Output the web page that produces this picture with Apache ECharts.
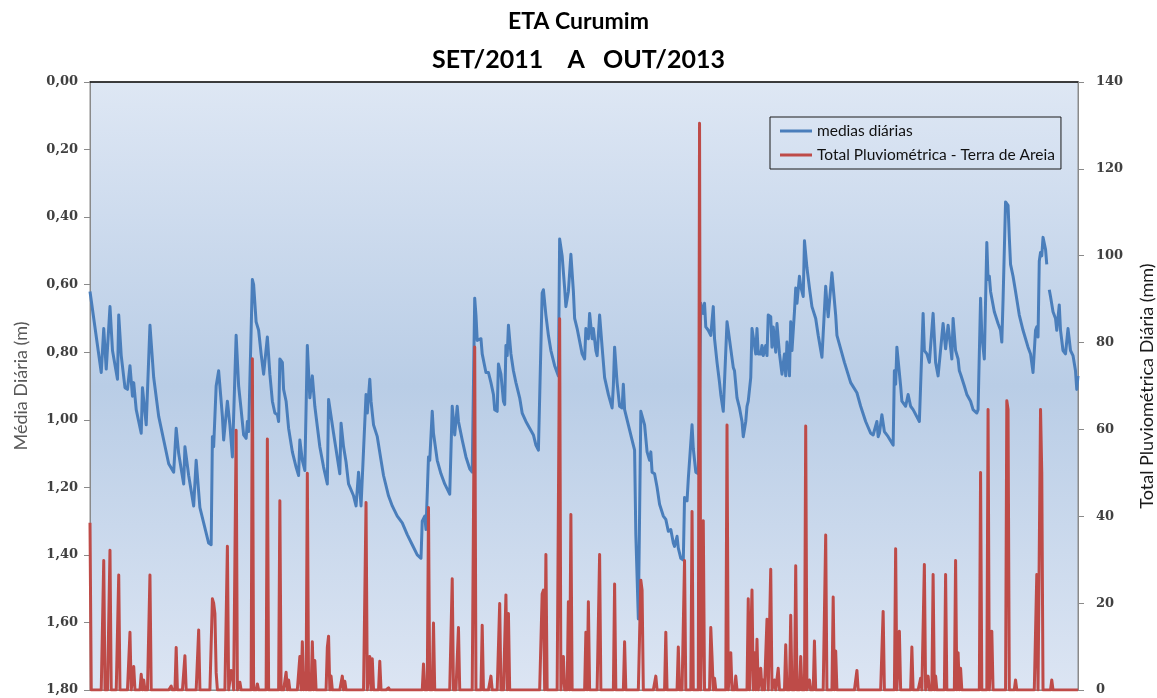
<!DOCTYPE html>
<html>
<head>
<meta charset="utf-8">
<title>ETA Curumim</title>
<script src="https://cdn.jsdelivr.net/npm/echarts@6/dist/echarts.min.js"></script>
<style>
  html, body { margin: 0; padding: 0; background: #ffffff; }
  #chart { width: 1157px; height: 698px; }
</style>
</head>
<body>
<div id="chart"></div>
<script>
// Period: 01/09/2011 .. 31/10/2013, days counted from 0
const totalDays = 791;

// Daily mean water level (m), given at the recorded days
const levelDay = [
  0, 9, 11, 13, 16, 18, 22, 23, 25, 28, 30, 32, 34, 35, 37, 41, 42, 45, 48, 51,
  55, 59, 63, 67, 69, 71, 75, 76, 79, 83, 85, 88, 91, 95, 97, 98, 99, 101, 103, 106,
  107, 110, 112, 114, 117, 119, 121, 123, 125, 126, 127, 130, 131, 133, 135, 137, 139, 142, 144, 146,
  148, 150, 151, 152, 154, 155, 157, 159, 162, 165, 167, 168, 170, 172, 174, 176, 178, 180, 182, 184,
  187, 190, 191, 192, 195, 200, 201, 203, 205, 207, 211, 213, 215, 217, 221, 222, 224, 225, 227, 230,
  233, 235, 239, 242, 246, 250, 254, 258, 262, 265, 266, 268, 269, 271, 272, 274, 275, 278, 281, 284,
  288, 290, 292, 294, 295, 298, 301, 304, 306, 308, 309, 310, 313, 314, 317, 319, 321, 323, 324, 326,
  327, 329, 331, 332, 333, 334, 335, 337, 339, 341, 344, 346, 349, 352, 355, 357, 359, 362, 363, 365,
  367, 369, 372, 375, 376, 378, 380, 381, 383, 385, 387, 388, 390, 394, 396, 397, 399, 400, 402, 403,
  405, 406, 408, 410, 412, 415, 418, 419, 420, 422, 424, 426, 427, 428, 431, 434, 436, 437, 438, 439,
  441, 442, 444, 446, 448, 449, 450, 452, 454, 456, 459, 461, 463, 465, 467, 468, 470, 471, 473, 475,
  476, 478, 479, 482, 483, 485, 487, 489, 491, 492, 493, 495, 497, 499, 500, 502, 504, 505, 507, 510,
  511, 513, 515, 516, 518, 520, 522, 523, 525, 526, 527, 529, 530, 531, 533, 534, 535, 537, 538, 539,
  541, 542, 543, 545, 546, 547, 549, 550, 552, 554, 556, 557, 558, 560, 561, 562, 564, 565, 566, 568,
  569, 571, 572, 574, 576, 578, 581, 583, 586, 589, 590, 591, 594, 597, 598, 604, 609, 614, 617, 621,
  625, 627, 630, 631, 632, 634, 636, 639, 643, 644, 645, 646, 649, 650, 653, 655, 657, 659, 664, 667,
  668, 670, 672, 675, 677, 679, 683, 685, 687, 689, 690, 691, 693, 695, 696, 697, 700, 702, 705, 707,
  710, 711, 713, 714, 716, 718, 719, 720, 721, 724, 727, 729, 730, 731, 733, 735, 736, 737, 739, 741,
  744, 747, 751, 753, 755, 756, 757, 758, 759, 760, 761, 762, 763, 765, 766, 767, 768, 769, 771, 773,
  774, 776, 777, 779, 781, 783, 785, 787, 789, 790, 791
];
const levelValue = [
  0.62, 0.86, 0.73, 0.85, 0.665, 0.795, 0.88, 0.69, 0.81, 0.905, 0.91, 0.84, 0.93, 0.89, 0.97, 1.04, 0.905, 1.015, 0.72, 0.875,
  0.99, 1.06, 1.13, 1.155, 1.025, 1.10, 1.19, 1.08, 1.165, 1.255, 1.12, 1.26, 1.305, 1.365, 1.37, 1.05, 1.08, 0.90, 0.855, 0.99,
  1.06, 0.945, 1.015, 1.11, 0.75, 0.90, 0.97, 1.045, 1.055, 1.005, 1.035, 0.585, 0.60, 0.71, 0.735, 0.805, 0.865, 0.755, 0.865, 0.945,
  0.98, 0.985, 1.005, 0.82, 0.83, 0.91, 0.945, 1.025, 1.095, 1.14, 1.165, 1.06, 1.12, 1.15, 0.78, 0.935, 0.87, 0.96, 1.02, 1.08,
  1.14, 1.19, 0.94, 0.94, 1.04, 1.16, 1.01, 1.08, 1.125, 1.19, 1.225, 1.255, 1.155, 1.255, 0.925, 0.98, 0.88, 0.945, 1.015, 1.05,
  1.12, 1.165, 1.225, 1.255, 1.285, 1.305, 1.34, 1.37, 1.40, 1.41, 1.30, 1.285, 1.325, 1.11, 1.12, 0.975, 1.04, 1.12, 1.16, 1.19,
  1.22, 0.96, 1.045, 0.96, 1.005, 1.06, 1.11, 1.145, 1.155, 0.64, 0.69, 0.765, 0.76, 0.805, 0.86, 0.86, 0.89, 0.925, 0.97, 0.975,
  0.835, 0.865, 0.945, 0.955, 0.78, 0.81, 0.72, 0.805, 0.855, 0.89, 0.935, 0.98, 1.005, 1.025, 1.045, 1.075, 1.09, 0.625, 0.615, 0.69,
  0.75, 0.795, 0.84, 0.87, 0.465, 0.515, 0.61, 0.665, 0.62, 0.51, 0.62, 0.70, 0.73, 0.805, 0.82, 0.73, 0.76, 0.685, 0.76, 0.73,
  0.795, 0.81, 0.69, 0.785, 0.875, 0.925, 0.965, 0.90, 0.785, 0.89, 0.96, 0.965, 0.895, 0.97, 1.015, 1.06, 1.09, 1.34, 1.34, 1.59,
  0.975, 0.98, 1.015, 1.095, 1.12, 1.095, 1.155, 1.16, 1.20, 1.25, 1.285, 1.295, 1.33, 1.325, 1.365, 1.375, 1.345, 1.38, 1.41, 1.415,
  1.23, 1.24, 1.175, 1.015, 1.085, 1.155, 1.16, 0.655, 0.685, 0.655, 0.725, 0.735, 0.75, 0.665, 0.76, 0.83, 0.89, 0.925, 0.975, 0.71,
  0.735, 0.79, 0.845, 0.855, 0.935, 0.965, 1.005, 1.05, 1.005, 0.96, 0.945, 0.875, 0.73, 0.73, 0.805, 0.73, 0.805, 0.805, 0.78, 0.81,
  0.78, 0.81, 0.69, 0.695, 0.785, 0.725, 0.80, 0.715, 0.805, 0.865, 0.805, 0.87, 0.77, 0.87, 0.71, 0.795, 0.68, 0.61, 0.655, 0.575,
  0.605, 0.635, 0.47, 0.55, 0.61, 0.665, 0.70, 0.75, 0.815, 0.605, 0.655, 0.695, 0.565, 0.69, 0.75, 0.83, 0.89, 0.92, 0.96, 1.005,
  1.04, 1.045, 1.005, 1.05, 1.04, 0.985, 1.035, 1.05, 1.075, 0.855, 0.895, 0.785, 0.90, 0.945, 0.96, 0.925, 0.96, 0.97, 1.005, 0.685,
  0.795, 0.805, 0.83, 0.685, 0.83, 0.87, 0.715, 0.79, 0.72, 0.785, 0.82, 0.70, 0.795, 0.82, 0.855, 0.865, 0.90, 0.925, 0.945, 0.97,
  0.98, 0.97, 0.64, 0.75, 0.82, 0.475, 0.585, 0.575, 0.62, 0.68, 0.715, 0.735, 0.77, 0.645, 0.355, 0.365, 0.46, 0.54, 0.575, 0.62,
  0.69, 0.735, 0.785, 0.805, 0.86, 0.86, 0.735, 0.725, 0.755, 0.53, 0.505, 0.515, 0.46, 0.495, 0.54, null, 0.615, 0.635, 0.68, 0.70,
  0.735, 0.66, 0.735, 0.795, 0.805, 0.73, 0.795, 0.81, 0.855, 0.91, 0.87
];

// Daily rainfall (mm) at Terra de Areia; days not listed had no rain
const rainDay = [
  0, 11, 16, 23, 32, 35, 41, 43, 48, 65, 69, 76, 87, 98, 99, 100, 101, 110, 113, 114,
  117, 120, 130, 134, 142, 152, 157, 159, 168, 170, 172, 174, 178, 180, 190, 191, 193, 202, 204, 221,
  224, 226, 232, 239, 267, 271, 275, 290, 295, 308, 314, 321, 328, 333, 335, 362, 363, 365, 376, 379,
  383, 385, 397, 399, 408, 420, 428, 441, 442, 453, 461, 471, 476, 482, 488, 491, 497, 498, 500, 510,
  513, 517, 527, 530, 532, 534, 537, 539, 542, 545, 548, 551, 557, 561, 565, 569, 573, 576, 580, 589,
  595, 597, 614, 635, 645, 648, 658, 665, 668, 671, 675, 677, 685, 693, 695, 697, 713, 719, 722, 734,
  735, 741, 758, 761, 762, 770
];
const rainMm = [
  38.5, 29.8, 32.2, 26.5, 13.3, 5.4, 3.6, 2.3, 26.5, 0.9, 9.8, 7.9, 13.8, 21, 20, 17.6, 4, 33.1, 4.5, 4,
  59.8, 1.8, 76.3, 1.4, 57.8, 43.6, 4.1, 2.3, 7.7, 11.1, 4, 49.9, 11.1, 6.8, 9.8, 12.4, 3.2, 3.2, 2, 43.2,
  7.7, 7.2, 6.6, 0.5, 6, 42, 15.4, 25.6, 14.4, 79, 14.9, 3.2, 19.9, 21.9, 17.6, 22.1, 23, 31.2, 85.5, 7.7,
  20.3, 40.4, 13.3, 20.3, 31.2, 24.4, 11.1, 25.3, 23, 3.2, 13.3, 9.9, 29.8, 41.1, 130.5, 39, 14.4, 7.7, 2.7, 61,
  8.6, 3.2, 21, 23, 8.6, 11.7, 5, 2.3, 16.3, 27.8, 2.3, 5, 10.4, 17.2, 28.6, 7.7, 60.8, 2.3, 11.3, 35.7,
  21.4, 9, 4.5, 18.1, 32.5, 13.5, 9.9, 2.7, 28.9, 3.2, 26.6, 3.2, 26.6, 29.8, 8.6, 5, 50.1, 64.6, 13.5, 66.6,
  64.6, 2.3, 26.6, 64.6, 50.1, 2.3
];

// Axis ranges and tick steps
const levelAxis = { min: 0, max: 1.8, interval: 0.2 };
const rainAxis = { min: 0, max: 140, interval: 20 };

const seriesNames = ['medias diárias', 'Total Pluviométrica - Terra de Areia'];

// Build series data
const levelData = levelDay.map((d, i) => [d, levelValue[i]]);
const rainDaily = new Array(totalDays + 1).fill(0);
rainDay.forEach((d, i) => { rainDaily[d] = rainMm[i]; });
const rainData = rainDaily.map((v, d) => [d, v]);

const chart = echarts.init(document.getElementById('chart'), null, { renderer: 'canvas' });

const tickLabel = {
  fontFamily: 'DejaVu Serif',
  fontWeight: 'bold',
  fontSize: 13,
  color: '#404040'
};

chart.setOption({
  animation: false,
  backgroundColor: '#ffffff',
  title: [
    {
      text: 'ETA Curumim',
      left: 'center',
      top: 5,
      textStyle: { fontFamily: 'Lato', fontWeight: 'bold', fontSize: 23, color: '#000' }
    },
    {
      text: 'SET/2011    A   OUT/2013',
      left: 'center',
      top: 42,
      textStyle: { fontFamily: 'Lato', fontWeight: 'bold', fontSize: 25, color: '#000' }
    }
  ],
  legend: {
    data: seriesNames,
    orient: 'vertical',
    left: 770,
    top: 117,
    padding: [6, 6, 6, 10],
    itemGap: 8,
    itemWidth: 32,
    itemHeight: 3,
    icon: 'rect',
    borderColor: '#1a1a1a',
    borderWidth: 1,
    backgroundColor: 'transparent',
    textStyle: { fontFamily: 'Lato', fontSize: 15.5, color: '#111' }
  },
  grid: {
    left: 90,
    right: 79,
    top: 82,
    bottom: 8,
    outerBoundsMode: 'none',
    containLabel: false,
    show: true,
    borderColor: '#8a8a8a',
    borderWidth: 1,
    backgroundColor: {
      type: 'linear', x: 0, y: 0, x2: 0, y2: 1,
      colorStops: [
        { offset: 0, color: '#dee7f4' },
        { offset: 0.5, color: '#b9cde6' },
        { offset: 1, color: '#dce5f3' }
      ]
    }
  },
  xAxis: [
    {
      type: 'value',
      min: 0,
      max: totalDays,
      position: 'bottom',
      axisLine: { show: true, onZero: false, lineStyle: { color: '#8a8a8a', width: 1 } },
      axisTick: { show: false },
      axisLabel: { show: false },
      splitLine: { show: false }
    },
    {
      type: 'value',
      min: 0,
      max: totalDays,
      position: 'top',
      axisLine: { show: true, onZero: false, lineStyle: { color: '#111', width: 1.5 } },
      axisTick: { show: false },
      axisLabel: { show: false },
      splitLine: { show: false }
    }
  ],
  yAxis: [
    {
      type: 'value',
      inverse: true,
      min: levelAxis.min,
      max: levelAxis.max,
      interval: levelAxis.interval,
      position: 'left',
      name: 'Média Diária (m)',
      nameLocation: 'middle',
      nameGap: 60,
      nameTextStyle: { fontFamily: 'Lato', fontSize: 18, color: '#595959' },
      axisLine: { show: true, onZero: false, lineStyle: { color: '#8a8a8a' } },
      axisTick: { show: true, inside: false, length: 6, lineStyle: { color: '#8a8a8a' } },
      minorTick: { show: false },
      axisLabel: Object.assign({ margin: 12, formatter: v => v.toFixed(2).replace('.', ',') }, tickLabel),
      splitLine: { show: false }
    },
    {
      type: 'value',
      min: rainAxis.min,
      max: rainAxis.max,
      interval: rainAxis.interval,
      position: 'right',
      name: 'Total Pluviométrica Diária (mm)',
      nameLocation: 'middle',
      nameGap: 60,
      nameTextStyle: { fontFamily: 'Lato', fontSize: 18, color: '#1a1a1a' },
      axisLine: { show: true, onZero: false, lineStyle: { color: '#8a8a8a' } },
      axisTick: { show: true, inside: false, length: 6, lineStyle: { color: '#8a8a8a' } },
      minorTick: { show: false },
      axisLabel: Object.assign({ margin: 18 }, tickLabel),
      splitLine: { show: false }
    }
  ],
  series: [
    {
      name: seriesNames[0],
      type: 'line',
      xAxisIndex: 0,
      yAxisIndex: 0,
      data: levelData,
      showSymbol: false,
      symbol: 'none',
      connectNulls: false,
      itemStyle: { color: '#4a7ebb' },
      lineStyle: { color: '#4a7ebb', width: 3, join: 'round' },
      z: 2
    },
    {
      name: seriesNames[1],
      type: 'line',
      xAxisIndex: 0,
      yAxisIndex: 1,
      data: rainData,
      showSymbol: false,
      symbol: 'none',
      itemStyle: { color: '#be4b48' },
      lineStyle: { color: '#be4b48', width: 3, join: 'round' },
      z: 3
    }
  ]
});
</script>
</body>
</html>
